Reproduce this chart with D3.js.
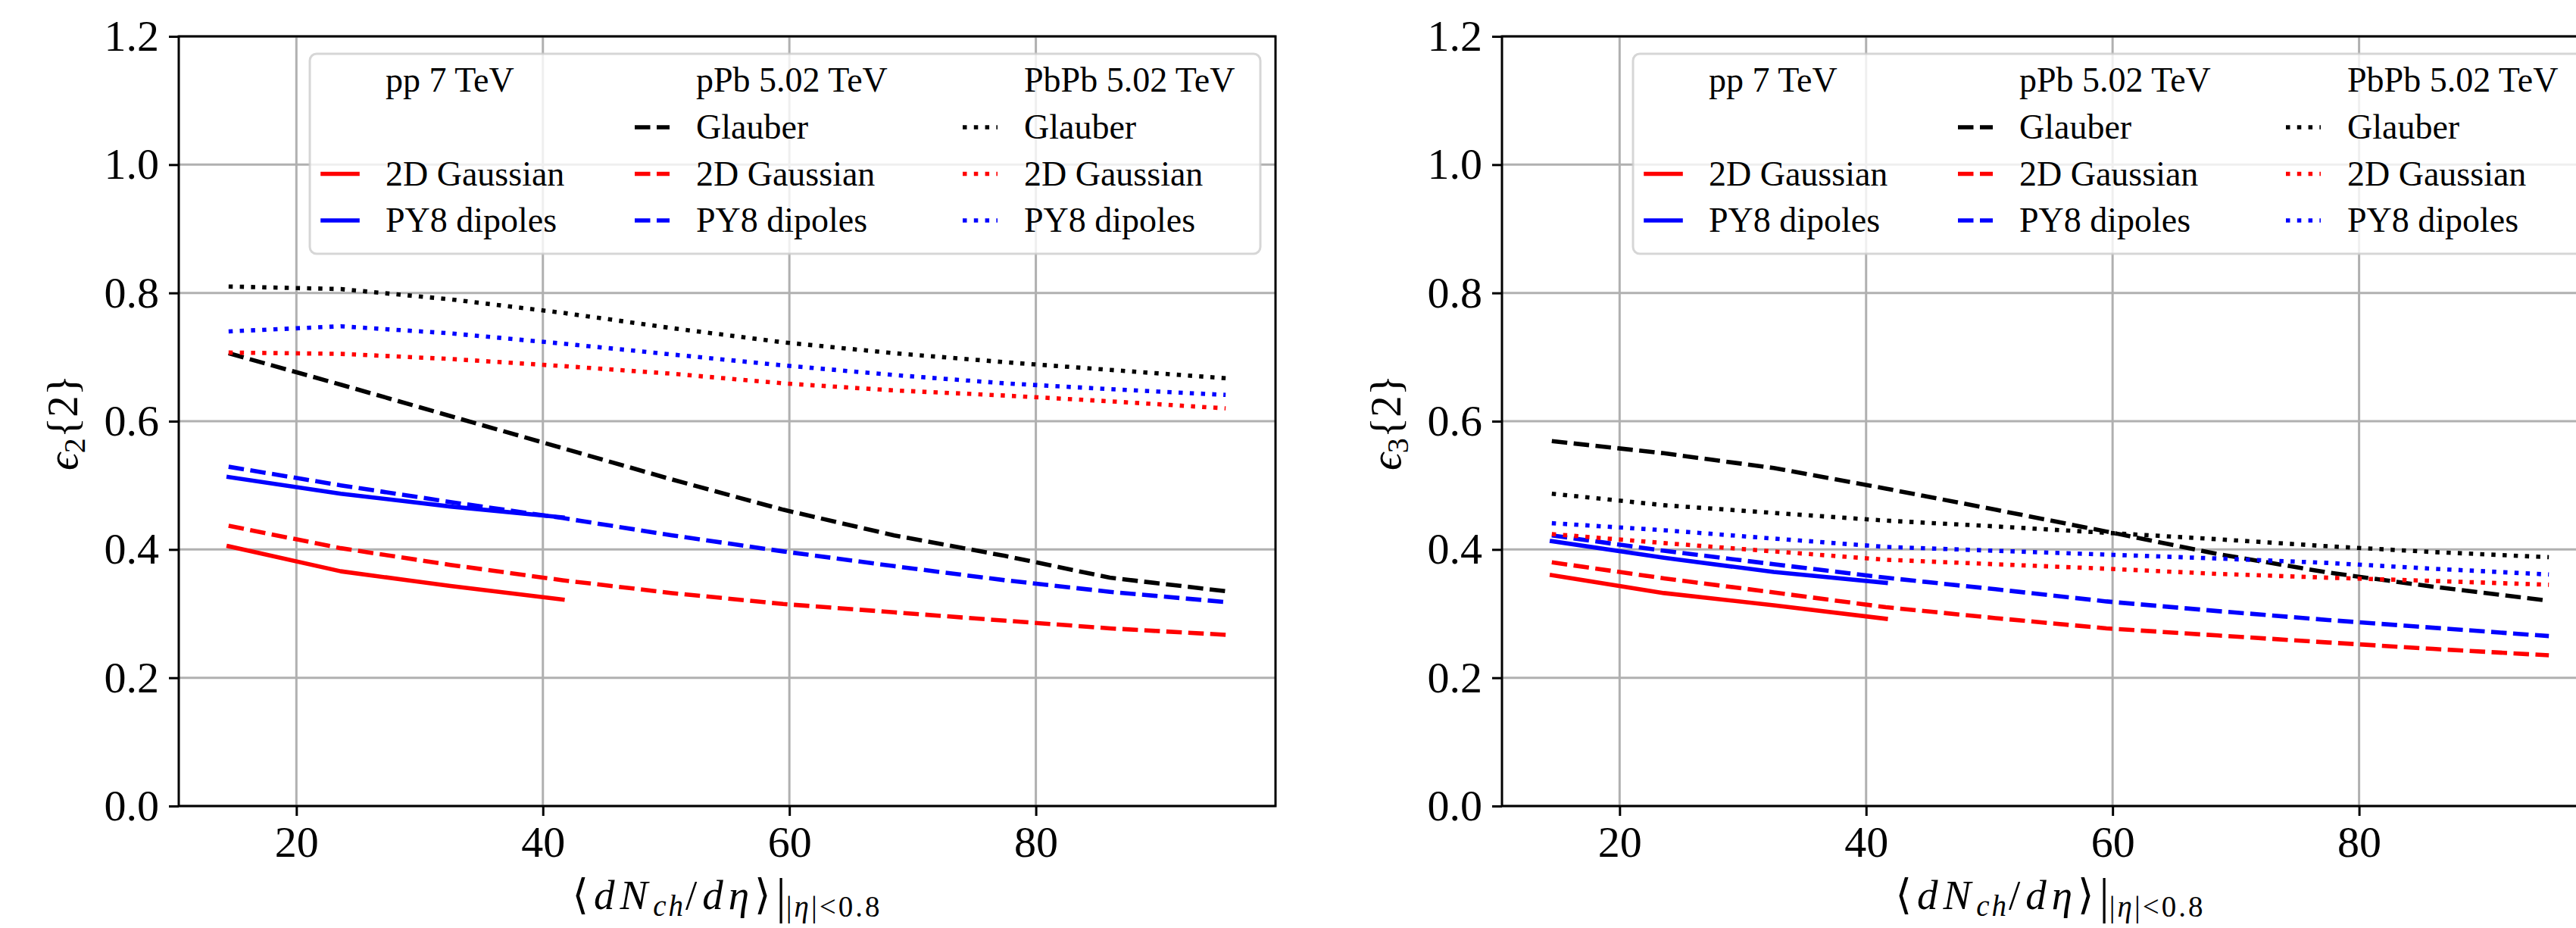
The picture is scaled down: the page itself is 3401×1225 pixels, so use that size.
<!DOCTYPE html>
<html lang="en">
<head>
<meta charset="UTF-8">
<title>eccentricity vs multiplicity</title>
<script src="https://d3js.org/d3.v7.min.js"></script>
<style>
    body { margin: 0; padding: 0; background: #fff; }
    svg { display: block; font-family: "Liberation Serif", "DejaVu Serif", serif; }
    text { font-family: "Liberation Serif", "DejaVu Serif", serif; fill: #000; }
</style>
</head>
<body>
<script>
    // multiplicity bins
    var xPP = [14.5, 23.6, 32.5, 41.6];
    var xAA = [14.5, 23.6, 32.5, 41.6, 50.5, 59.5, 68.5, 77.5, 86.0, 95.4];

    // eps2{2}
    var e2PPGauss   = [0.405, 0.366, 0.343, 0.322];
    var e2PPDip     = [0.513, 0.487, 0.467, 0.450];
    var e2PPbGlaub  = [0.706, 0.657, 0.608, 0.558, 0.509, 0.462, 0.422, 0.390, 0.356, 0.335];
    var e2PPbGauss  = [0.437, 0.402, 0.376, 0.352, 0.332, 0.315, 0.302, 0.289, 0.277, 0.267];
    var e2PPbDip    = [0.529, 0.500, 0.474, 0.449, 0.422, 0.397, 0.374, 0.352, 0.334, 0.318];
    var e2PbPbGlaub = [0.810, 0.806, 0.790, 0.769, 0.745, 0.723, 0.706, 0.692, 0.680, 0.667];
    var e2PbPbGauss = [0.707, 0.705, 0.697, 0.686, 0.674, 0.659, 0.648, 0.640, 0.631, 0.620];
    var e2PbPbDip   = [0.740, 0.748, 0.737, 0.721, 0.704, 0.687, 0.672, 0.659, 0.650, 0.641];

    // eps3{2}
    var e3PPGauss   = [0.360, 0.332, 0.313, 0.292];
    var e3PPDip     = [0.413, 0.387, 0.365, 0.348];
    var e3PPbGlaub  = [0.569, 0.550, 0.527, 0.495, 0.462, 0.428, 0.393, 0.364, 0.342, 0.320];
    var e3PPbGauss  = [0.380, 0.355, 0.333, 0.310, 0.293, 0.277, 0.266, 0.255, 0.245, 0.235];
    var e3PPbDip    = [0.422, 0.398, 0.377, 0.356, 0.338, 0.319, 0.304, 0.290, 0.278, 0.265];
    var e3PbPbGlaub = [0.487, 0.469, 0.457, 0.445, 0.436, 0.426, 0.416, 0.405, 0.396, 0.388];
    var e3PbPbGauss = [0.424, 0.410, 0.397, 0.384, 0.377, 0.370, 0.362, 0.356, 0.351, 0.345];
    var e3PbPbDip   = [0.441, 0.430, 0.417, 0.404, 0.398, 0.392, 0.386, 0.379, 0.370, 0.361];

    var xTicks = [20, 40, 60, 80];
    var yTicks = [0, 0.2, 0.4, 0.6, 0.8, 1.0, 1.2];
    var systems = ['pp 7 TeV', 'pPb 5.02 TeV', 'PbPb 5.02 TeV'];
    var models = ['Glauber', '2D Gaussian', 'PY8 dipoles'];

    // style per model / per system
    var modelColor = ['#000000', '#ff0000', '#0000ff'];
    var sysDash = [null, '20.5 8.5', '5.5 9.3'];

    function makeSeries(v) {
        return [
            { sys: 0, model: 1, x: xPP, y: v[0] },
            { sys: 0, model: 2, x: xPP, y: v[1] },
            { sys: 1, model: 0, x: xAA, y: v[2] },
            { sys: 1, model: 1, x: xAA, y: v[3] },
            { sys: 1, model: 2, x: xAA, y: v[4] },
            { sys: 2, model: 0, x: xAA, y: v[5] },
            { sys: 2, model: 1, x: xAA, y: v[6] },
            { sys: 2, model: 2, x: xAA, y: v[7] }
        ]
    }

    var panels = [
        { left: 236, sub: '2', series: makeSeries([e2PPGauss, e2PPDip, e2PPbGlaub, e2PPbGauss, e2PPbDip, e2PbPbGlaub, e2PbPbGauss, e2PbPbDip]) },
        { left: 1983, sub: '3', series: makeSeries([e3PPGauss, e3PPDip, e3PPbGlaub, e3PPbGauss, e3PPbDip, e3PbPbGlaub, e3PbPbGauss, e3PbPbDip]) }
    ]

    var W = 3401, H = 1225;
    var axW = 1448, axTop = 48, axBot = 1064;
    var lw = 5.6;
    var FONT = '"Liberation Serif", "DejaVu Serif", serif';

    var svg = d3.select('body').append('svg')
        .attr('width', W)
        .attr('height', H)
    svg.append('rect').attr('width', W).attr('height', H).attr('fill', '#fff')

    function styleLine(sel, d) {
        sel.attr('fill', 'none')
            .attr('stroke', modelColor[d.model])
            .attr('stroke-width', lw)
            .attr('stroke-linejoin', 'round')
            .attr('stroke-linecap', d.sys == 0 ? 'square' : 'butt')
        if (sysDash[d.sys]) sel.attr('stroke-dasharray', sysDash[d.sys])
    }

    function drawPanel(p) {
        var g = svg.append('g')
        var allX = d3.merge(p.series.map(function (s) { return s.x }))
        var ext = d3.extent(allX)
        var pad = (ext[1] - ext[0]) * 0.05
        var x = d3.scaleLinear().domain([ext[0] - pad, ext[1] + pad]).range([p.left, p.left + axW])
        var y = d3.scaleLinear().domain([0, 1.2]).range([axBot, axTop])

        // grid
        g.selectAll('.gx').data(xTicks).enter().append('line')
            .attr('x1', function (d) { return x(d) }).attr('x2', function (d) { return x(d) })
            .attr('y1', axTop).attr('y2', axBot)
            .attr('stroke', '#b0b0b0').attr('stroke-width', 3)
        g.selectAll('.gy').data(yTicks).enter().append('line')
            .attr('x1', p.left).attr('x2', p.left + axW)
            .attr('y1', function (d) { return y(d) }).attr('y2', function (d) { return y(d) })
            .attr('stroke', '#b0b0b0').attr('stroke-width', 3)

        // curves
        var line = d3.line()
            .x(function (d) { return x(d[0]) })
            .y(function (d) { return y(d[1]) })
        p.series.forEach(function (s) {
            var pts = s.x.map(function (v, i) { return [v, s.y[i]] })
            var path = g.append('path').attr('d', line(pts))
            styleLine(path, s)
        })

        // frame
        g.append('rect')
            .attr('x', p.left).attr('y', axTop)
            .attr('width', axW).attr('height', axBot - axTop)
            .attr('fill', 'none').attr('stroke', '#000').attr('stroke-width', 3)

        // axes
        var ax = g.append('g').attr('transform', 'translate(0,' + axBot + ')')
            .call(d3.axisBottom(x).tickValues(xTicks).tickSize(13).tickPadding(13).tickFormat(d3.format('d')))
        var ay = g.append('g').attr('transform', 'translate(' + p.left + ',0)')
            .call(d3.axisLeft(y).tickValues(yTicks).tickSize(13).tickPadding(13).tickFormat(d3.format('.1f')))
        ;[ax, ay].forEach(function (a) {
            a.select('.domain').remove()
            a.attr('font-family', FONT).attr('font-size', 58)
            a.selectAll('line').attr('stroke', '#000').attr('stroke-width', 3)
            a.selectAll('text').style('font-family', FONT).style('font-size', '58px')
        })

        // x label: <dN_ch/deta>|_{|eta|<0.8}
        var cx = p.left + axW / 2
        var xl = g.append('text').attr('x', cx).attr('y', 1200)
            .attr('text-anchor', 'middle')
            .style('font-family', FONT).style('font-size', '55px')
        function main(t, it) {
            var s = xl.append('tspan').style('letter-spacing', '7px').text(t)
            if (it) s.style('font-style', 'italic')
            return s
        }
        function sub(t, it) {
            var s = xl.append('tspan').style('font-size', '39px').style('letter-spacing', '3px').text(t)
            if (it) s.style('font-style', 'italic')
            return s
        }
        main('⟨')
        main('dN', true)
        sub('ch', true).attr('dy', 9)
        main('/').attr('dy', -9)
        main('dη', true)
        main('⟩')
        xl.append('tspan').style('font-size', '66px').attr('dy', 5).text('|')
        sub('|').attr('dy', 5)
        sub('η', true)
        sub('|<0.8')

        // y label
        var yl = g.append('text')
            .attr('transform', 'translate(' + (p.left - 134) + ',' + ((axTop + axBot) / 2 + 2) + ') rotate(-90)')
            .attr('text-anchor', 'middle')
            .style('font-family', FONT).style('font-size', '57px')
        yl.append('tspan').style('font-style', 'italic').text('ϵ')
        yl.append('tspan').style('font-size', '40px').attr('dy', 10).text(p.sub)
        yl.append('tspan').attr('dy', -10).text('{2}')

        // legend
        var lg = g.append('g').attr('transform', 'translate(' + (p.left + 173) + ',71)')
        lg.append('rect')
            .attr('width', 1255).attr('height', 264).attr('rx', 9)
            .attr('fill', '#fff').attr('fill-opacity', 0.8)
            .attr('stroke', '#cccccc').attr('stroke-opacity', 0.8).attr('stroke-width', 3)
        var colH = [17, 429, 862], colT = [100, 510, 943]
        var rowB = [50, 112, 173.5, 235]
        systems.forEach(function (name, c) {
            lg.append('text').attr('x', colT[c]).attr('y', rowB[0])
                .style('font-family', FONT).style('font-size', '46px').text(name)
        })
        p.series.forEach(function (s) {
            var r = s.model + 1
            var h = lg.append('line')
                .attr('x1', colH[s.sys]).attr('x2', colH[s.sys] + 46)
                .attr('y1', rowB[r] - 15).attr('y2', rowB[r] - 15)
            styleLine(h, s)
            lg.append('text').attr('x', colT[s.sys]).attr('y', rowB[r])
                .style('font-family', FONT).style('font-size', '46px').text(models[s.model])
        })
    }

    panels.forEach(drawPanel)
</script>
</body>
</html>
